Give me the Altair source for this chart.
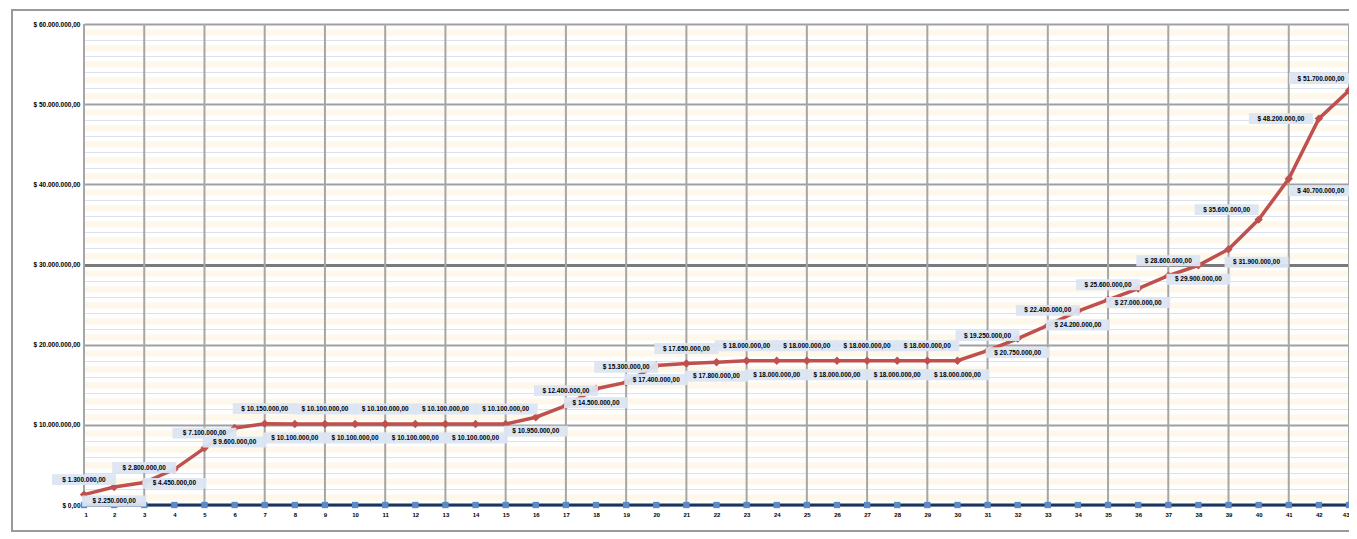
import altair as alt
import pandas as pd

points = list(range(1, 44))
red_values = [
    1300000, 2250000, 2800000, 4450000, 7100000, 9600000, 10150000,
    10100000, 10100000, 10100000, 10100000, 10100000, 10100000, 10100000, 10100000,
    10950000, 12400000, 14500000, 15300000, 17400000, 17650000, 17800000,
    18000000, 18000000, 18000000, 18000000, 18000000, 18000000, 18000000, 18000000,
    19250000, 20750000, 22400000, 24200000, 25600000, 27000000, 28600000, 29900000,
    31900000, 35600000, 40700000, 48200000, 51700000,
]
blue_values = [0] * 43
major_ticks = [0, 10000000, 20000000, 30000000, 40000000, 50000000, 60000000]
minor_step = 1000000


def brl(v):
    s = f"{v:,.2f}"
    return "$ " + s.replace(",", "#").replace(".", ",").replace("#", ".")


df = pd.DataFrame({
    "pt": points,
    "red": red_values,
    "blue": blue_values,
    "label": [brl(v) for v in red_values],
})

W, H = 1265, 481
FONT = "Liberation Sans"
RED = "#c0504d"

y_vals = list(range(0, major_ticks[-1] + 1, minor_step))

xs = alt.Scale(domain=[1, 43], nice=False, zero=False)
ys = alt.Scale(domain=[0, major_ticks[-1]], nice=False)

base = alt.Chart(df)

x_axis = alt.Axis(
    values=points, tickCount=200, labelOverlap=False, format="d", title=None, labelFontSize=6,
    labelFont=FONT, labelFontWeight="bold", labelColor="#000", labelPadding=6,
    ticks=False, domain=False, grid=False,
)
y_axis = alt.Axis(
    values=y_vals, tickCount=500, labelOverlap=False, title=None, labelFontSize=6.5,
    labelFont=FONT, labelFontWeight="bold", labelColor="#000", labelPadding=4,
    ticks=False, domain=False,
    labelExpr="datum.value == 0 ? '$ 0,00' : (datum.value % 10000000 == 0 ? '$ ' + format(datum.value/1000000, 'd') + '.000.000,00' : '')",
    gridColor={"condition": [
        {"test": "datum.value == 30000000", "value": "#7a7a7a"},
        {"test": "datum.value % 10000000 == 0", "value": "#a0a0a0"},
        {"test": "datum.value % 2000000 == 0", "value": "#dde2ea"},
    ], "value": "#fdf8ea"},
    gridWidth={"condition": [
        {"test": "datum.value == 30000000", "value": 3},
        {"test": "datum.value % 10000000 == 0", "value": 2},
        {"test": "datum.value % 2000000 == 0", "value": 1},
    ], "value": 6},
)

frame = alt.Chart(pd.DataFrame({"a": [0]})).mark_rect(
    fill="transparent", stroke="#9a9a9a", strokeWidth=2
).encode(x=alt.value(-72), x2=alt.value(W + 40), y=alt.value(-14), y2=alt.value(H + 26))

grid = base.mark_point(opacity=0).encode(
    x=alt.X("pt:Q", scale=xs, axis=x_axis),
    y=alt.Y("red:Q", scale=ys, axis=y_axis),
)

vgrid = base.transform_filter("datum.pt % 2 == 1").mark_rule(color="#a6a6a6", strokeWidth=2).encode(
    x=alt.X("pt:Q", scale=xs), y=alt.value(0), y2=alt.value(H)
)

blue_line = base.mark_line(color="#17375e", strokeWidth=3).encode(
    x=alt.X("pt:Q", scale=xs), y=alt.Y("blue:Q", scale=ys)
)
blue_pts = base.mark_point(shape="square", filled=True, color="#5b8bc6", size=40, opacity=1).encode(
    x=alt.X("pt:Q", scale=xs), y=alt.Y("blue:Q", scale=ys)
)

red_line = base.mark_line(color=RED, strokeWidth=3.5).encode(
    x=alt.X("pt:Q", scale=xs), y=alt.Y("red:Q", scale=ys)
)
red_pts = base.mark_point(shape="diamond", filled=True, color=RED, size=70, opacity=1).encode(
    x=alt.X("pt:Q", scale=xs), y=alt.Y("red:Q", scale=ys)
)

box_shape = "M-1,-0.17H1V0.17H-1Z"


def label_layer(test, dx, dy):
    sub = base.transform_filter(test)
    box = sub.mark_point(shape=box_shape, filled=True, color="#dbe5f1", size=64 * 64,
                         opacity=0.95, xOffset=dx, yOffset=dy).encode(
        x=alt.X("pt:Q", scale=xs), y=alt.Y("red:Q", scale=ys)
    )
    txt = sub.mark_text(fontSize=6.5, font=FONT, fontWeight="bold", color="#000",
                        xOffset=dx, yOffset=dy).encode(
        x=alt.X("pt:Q", scale=xs), y=alt.Y("red:Q", scale=ys), text="label:N"
    )
    return box + txt


chart = alt.layer(
    frame, grid, vgrid, blue_line, blue_pts, red_line, red_pts,
    label_layer("datum.pt < 39 && datum.pt % 2 == 1", 0, -15),
    label_layer("datum.pt < 39 && datum.pt % 2 == 0", 0, 14),
    label_layer("datum.pt == 39", 28, 13),
    label_layer("datum.pt == 40", -32, -10),
    label_layer("datum.pt == 41", 32, 12),
    label_layer("datum.pt == 42", -38, 0),
    label_layer("datum.pt == 43", -28, -12),
).properties(
    width=W, height=H,
    autosize=alt.AutoSizeParams(type="none"),
    padding={"left": 76, "top": 16, "right": 0, "bottom": 30},
).configure_view(stroke=None).configure(background="white")

chart.save("out.html", embed_options={"renderer": "svg", "actions": False})
